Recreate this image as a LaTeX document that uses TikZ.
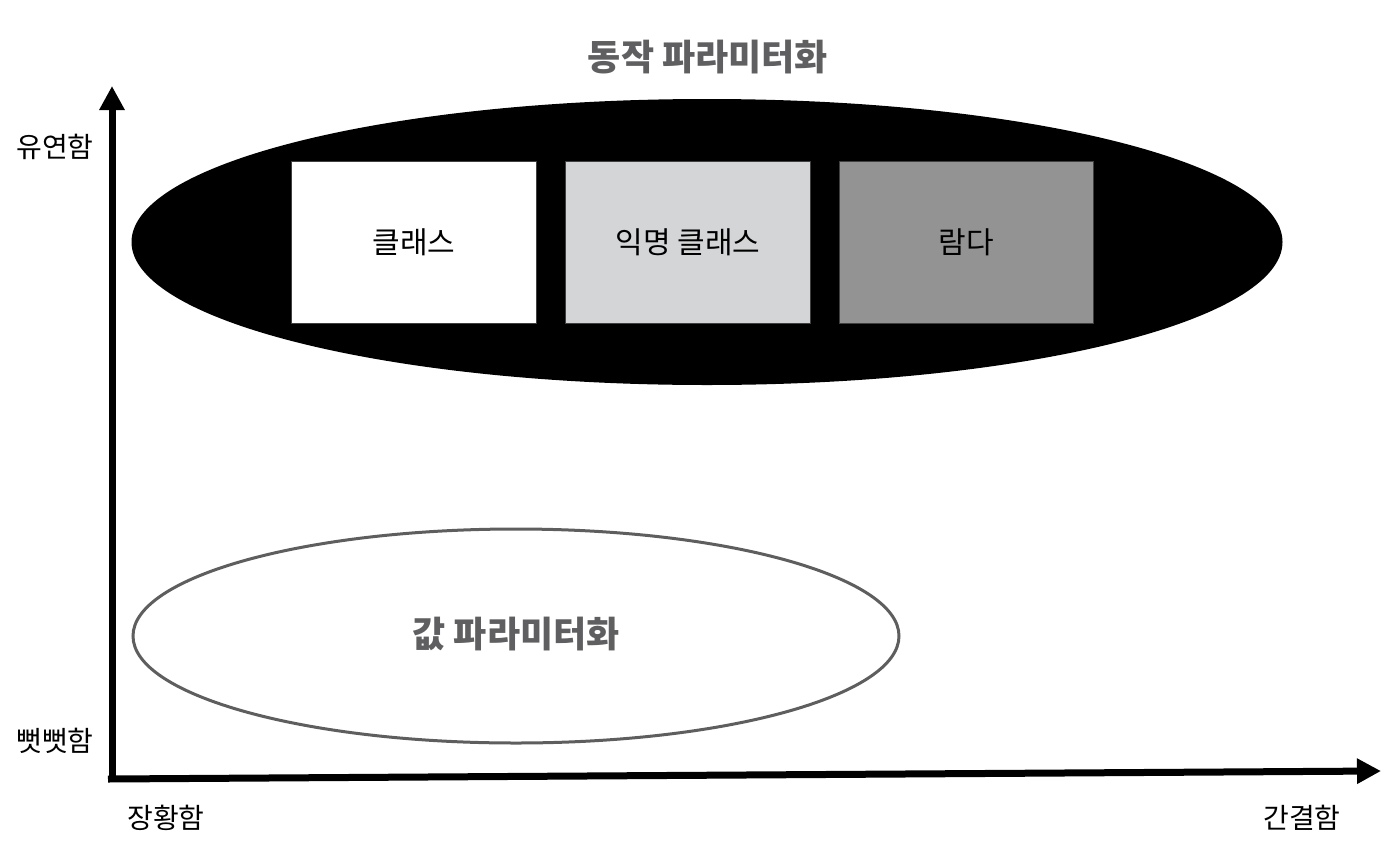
\documentclass[tikz,border=0pt]{standalone}
\usepackage{fontspec}
\setmainfont{Noto Sans CJK KR}
\usetikzlibrary{arrows.meta,shapes.geometric}
\definecolor{titlegray}{HTML}{5F5F61}
\definecolor{lightbox}{HTML}{D4D5D7}
\definecolor{darkbox}{HTML}{939394}
\definecolor{ringgray}{HTML}{5E5E5E}
\tikzset{
  axis/.style={line width=7pt,-{Triangle[length=24pt,width=24pt]}},
  axlabel/.style={font=\fontsize{28}{31}\selectfont,inner sep=0pt},
  title/.style={font=\bfseries\fontsize{36}{40}\selectfont,text=titlegray,inner sep=0pt},
  boxlabel/.style={font=\fontsize{30}{33}\selectfont,inner sep=0pt},
  catbox/.style={draw=black!75,line width=0.8pt,minimum width=245pt,minimum height=162pt,inner sep=0pt},
}
\begin{document}
\begin{tikzpicture}[x=1pt,y=-1pt]
\useasboundingbox (0,0) rectangle (1392,865);
% ellipses
\node[ellipse,fill=black,minimum width=1151pt,minimum height=286pt,inner sep=0pt] (flex) at (707,242) {};
\node[ellipse,draw=ringgray,line width=3pt,minimum width=766pt,minimum height=214pt,inner sep=0pt] (rigid) at (516,636) {};
% boxes
\node[catbox,fill=white] (cls) at (414,242.5) {};
\node[catbox,fill=lightbox] (anon) at (688,242.5) {};
\node[catbox,fill=darkbox,minimum width=254pt] (lam) at (966,242.5) {};
\node[boxlabel] at (cls) {클래스};
\node[boxlabel] at (anon) {익명 클래스};
\node[boxlabel] at (lam) {람다};
% titles
\node[title] (t1) at (708,57) {동작 파라미터화};
\node[title] (t2) at (516,634) {값 파라미터화};
% axes
\coordinate (O) at (112,782);
\coordinate (Ox) at (108,779);
\coordinate (ytop) at (112,86);
\coordinate (xend) at (1381,771);
\draw[axis] (O) -- (ytop);
\draw[axis] (Ox) -- (xend);
% axis labels
\node[axlabel] (flexl) at (55,147) {유연함};
\node[axlabel] (rigl) at (55,741) {뻣뻣함};
\node[axlabel] (verb) at (166,818) {장황함};
\node[axlabel] (conc) at (1302,818) {간결함};
\end{tikzpicture}
\end{document}
